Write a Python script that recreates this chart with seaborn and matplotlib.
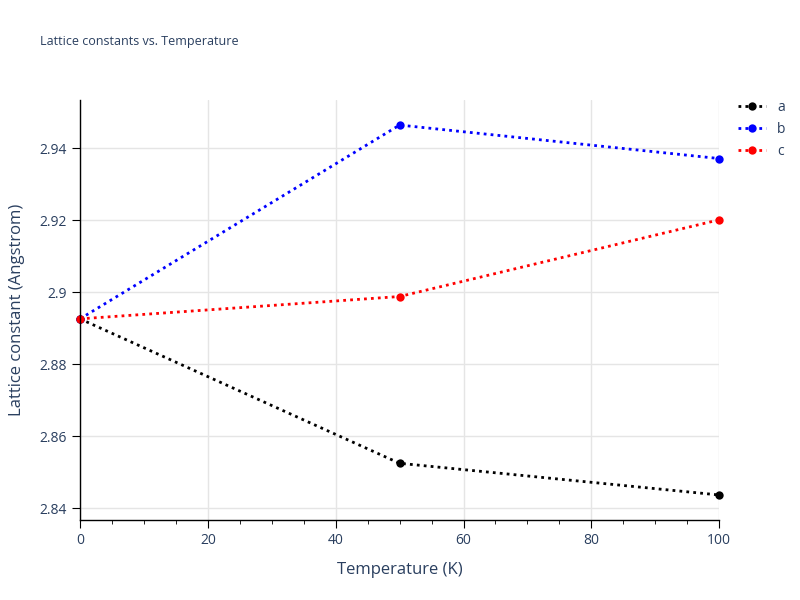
import matplotlib
matplotlib.use('Agg')
import matplotlib.pyplot as plt
import seaborn as sns
import pandas as pd

temps = [0, 50, 100]
a_vals = [2.8926, 2.8525, 2.8437]
b_vals = [2.8926, 2.9464, 2.9371]
c_vals = [2.8926, 2.8988, 2.9201]
series_names = ['a', 'b', 'c']
series_colors = ['black', 'blue', 'red']

df = pd.DataFrame({
    'Temperature': temps * 3,
    'value': a_vals + b_vals + c_vals,
    'series': [s for s in series_names for _ in temps],
})

sns.set_style('white')
plt.rcParams['font.family'] = ['Open Sans', 'DejaVu Sans']
text_col = '#2a3f5f'

fig = plt.figure(figsize=(8, 6), dpi=100)
ax = fig.add_axes([0.1, 0.133, 0.799, 0.7])
sns.lineplot(data=df, x='Temperature', y='value', hue='series',
             palette=dict(zip(series_names, series_colors)),
             marker='o', markersize=6, markeredgewidth=0,
             linestyle=':', linewidth=2, ax=ax, clip_on=False)
for line in ax.get_lines():
    line.set_linestyle((0, (1, 1.5)))

ax.set_xlim(0, 100)
ax.set_ylim(2.8367, 2.9533)
ax.set_xticks([0, 20, 40, 60, 80, 100])
ax.set_xticks(range(0, 101, 5), minor=True)
ax.set_yticks([2.84, 2.86, 2.88, 2.9, 2.92, 2.94])
ax.set_yticklabels(['2.84', '2.86', '2.88', '2.9', '2.92', '2.94'])
ax.grid(True, which='major', color='#e5e5e5', linewidth=1)
ax.set_axisbelow(True)
for s in ['top', 'right']:
    ax.spines[s].set_visible(False)
for s in ['left', 'bottom']:
    ax.spines[s].set_color('black')
    ax.spines[s].set_linewidth(1)
ax.tick_params(axis='both', which='major', direction='out', length=6,
               color='black', labelsize=10, labelcolor=text_col, bottom=True, left=True)
ax.tick_params(axis='x', which='minor', direction='out', length=3,
               color='black', bottom=True)
ax.set_xlabel('Temperature (K)', fontsize=12, color=text_col, labelpad=10)
ax.set_ylabel('Lattice constant (Angstrom)', fontsize=12, color=text_col, labelpad=10)
fig.text(0.05, 0.925, 'Lattice constants vs. Temperature', fontsize=9, color=text_col)

leg = ax.legend(loc='upper left', bbox_to_anchor=(1.01, 1.03), frameon=False,
                fontsize=10, handlelength=2)
for t in leg.get_texts():
    t.set_color(text_col)

fig.savefig('out.png', dpi=100)
